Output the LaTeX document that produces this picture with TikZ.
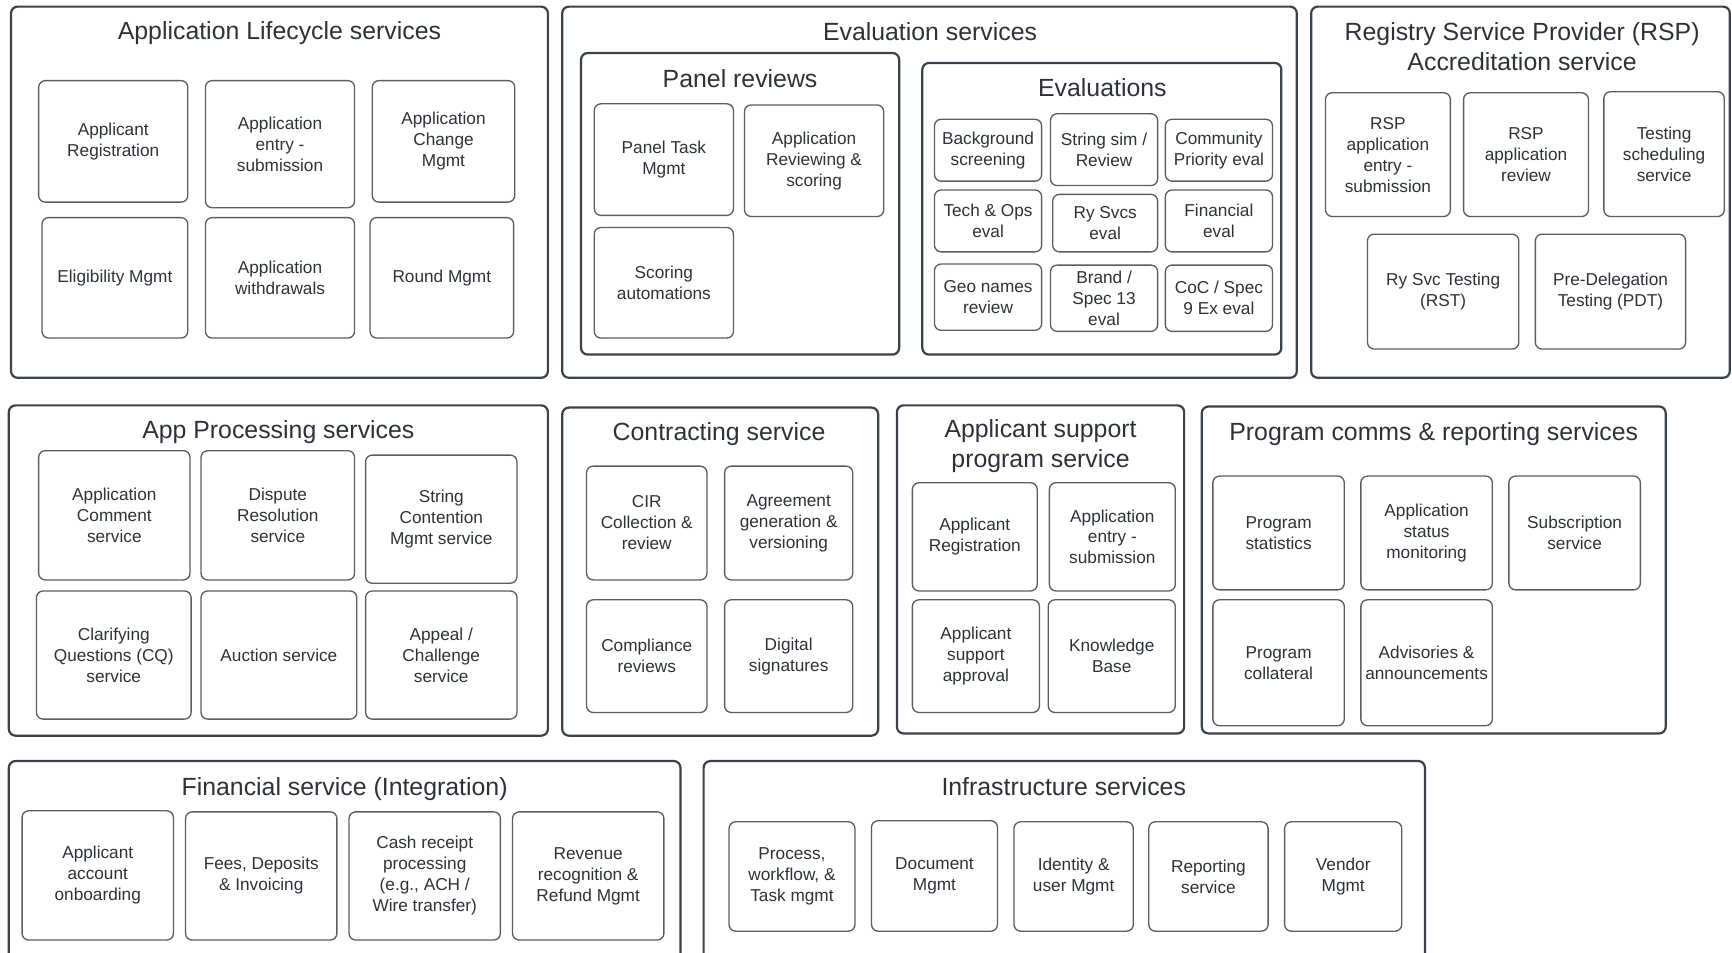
\documentclass[tikz,border=0pt]{standalone}
\usepackage{fontspec}
\setmainfont{Liberation Sans}
\usepackage{tikz}
\definecolor{lineGray}{RGB}{60,66,74}
\definecolor{textGray}{RGB}{45,50,58}

\begin{document}
\begin{tikzpicture}[x=1pt,y=-1pt,
panel/.style={draw=lineGray,line width=2pt,rounded corners=6pt},
svc/.style={draw=lineGray!85,line width=1.2pt,rounded corners=6pt},
ttl/.style={text=textGray,align=center,inner sep=0pt,font=\fontsize{22.5}{27}\selectfont},
lbl/.style={text=textGray,align=center,inner sep=0pt,font=\fontsize{15.6}{19}\selectfont}]

\useasboundingbox (0,0) rectangle (1568,862);

% Application Lifecycle services
\draw[panel] (10,6) rectangle (496,342);
\node (LIFE) at (253,30) [ttl] {Application Lifecycle services};
\draw[svc] (35,73) rectangle (170,183) node[midway,lbl] (LREG) {Applicant\\Registration};
\draw[svc] (186,73) rectangle (321,188) node[midway,lbl] (LENTRY) {Application\\entry -\\submission};
\draw[svc] (337,73) rectangle (466,183) node[midway,lbl] (LCHG) {Application\\Change\\Mgmt};
\draw[svc] (38,197) rectangle (170,306) node[midway,lbl] (LELIG) {Eligibility Mgmt};
\draw[svc] (186,197) rectangle (321,306) node[midway,lbl] (LWDR) {Application\\withdrawals};
\draw[svc] (335,197) rectangle (465,306) node[midway,lbl] (LROUND) {Round Mgmt};

% Evaluation services
\draw[panel] (509,6) rectangle (1174,342);
\node (EVAL) at (842,29) [ttl] {Evaluation services};

\draw[panel] (526,48) rectangle (814,321);
\node (PANEL) at (670,71) [ttl] {Panel reviews};
\draw[svc] (538,94) rectangle (664,195) node[midway,lbl] (PTASK) {Panel Task\\Mgmt};
\draw[svc] (674,95) rectangle (800,196) node[midway,lbl] (PREV) {Application\\Reviewing \&\\scoring};
\draw[svc] (538,206) rectangle (664,306) node[midway,lbl] (PAUTO) {Scoring\\automations};

\draw[panel] (835,57) rectangle (1160,321);
\node (EVS) at (998,79) [ttl] {Evaluations};
\draw[svc] (846,108) rectangle (943,164) node[midway,lbl] (EBG) {Background\\screening};
\draw[svc] (951,103) rectangle (1048,168) node[midway,lbl] (ESTR) {String sim /\\Review};
\draw[svc] (1055,108) rectangle (1152,164) node[midway,lbl] (ECOM) {Community\\Priority eval};
\draw[svc] (846,172) rectangle (943,228) node[midway,lbl] (ETECH) {Tech \& Ops\\eval};
\draw[svc] (953,176) rectangle (1048,228) node[midway,lbl] (ERY) {Ry Svcs\\eval};
\draw[svc] (1055,172) rectangle (1152,228) node[midway,lbl] (EFIN) {Financial\\eval};
\draw[svc] (846,239) rectangle (943,299) node[midway,lbl] (EGEO) {Geo names\\review};
\draw[svc] (951,240) rectangle (1048,300) node[midway,lbl] (EBRAND) {Brand /\\Spec 13\\eval};
\draw[svc] (1055,240) rectangle (1152,300) node[midway,lbl] (ECOC) {CoC / Spec\\9 Ex eval};

% RSP Accreditation service
\draw[panel] (1187,6) rectangle (1566,342);
\node (RSP) at (1378,42) [ttl] {Registry Service Provider (RSP)\\Accreditation service};
\draw[svc] (1200,84) rectangle (1313,196) node[midway,lbl] (RENTRY) {RSP\\application\\entry -\\submission};
\draw[svc] (1325,84) rectangle (1438,196) node[midway,lbl] (RREV) {RSP\\application\\review};
\draw[svc] (1452,83) rectangle (1561,196) node[midway,lbl] (RSCHED) {Testing\\scheduling\\service};
\draw[svc] (1238,212) rectangle (1375,316) node[midway,lbl] (RRST) {Ry Svc Testing\\(RST)};
\draw[svc] (1390,212) rectangle (1526,316) node[midway,lbl] (RPDT) {Pre-Delegation\\Testing (PDT)};

% App Processing services
\draw[panel] (8,367) rectangle (496,666);
\node (PROC) at (252,391) [ttl] {App Processing services};
\draw[svc] (35,408) rectangle (172,525) node[midway,lbl] (ACOMM) {Application\\Comment\\service};
\draw[svc] (182,408) rectangle (321,525) node[midway,lbl] (ADISP) {Dispute\\Resolution\\service};
\draw[svc] (331,412) rectangle (468,528) node[midway,lbl] (ACONT) {String\\Contention\\Mgmt service};
\draw[svc] (33,535) rectangle (173,651) node[midway,lbl] (ACQ) {Clarifying\\Questions (CQ)\\service};
\draw[svc] (182,535) rectangle (323,651) node[midway,lbl] (AAUC) {Auction service};
\draw[svc] (331,535) rectangle (468,651) node[midway,lbl] (AAPP) {Appeal /\\Challenge\\service};

% Contracting service
\draw[panel] (509,369) rectangle (795,666);
\node (CONTR) at (651,393) [ttl] {Contracting service};
\draw[svc] (531,422) rectangle (640,525) node[midway,lbl] (CCIR) {CIR\\Collection \&\\review};
\draw[svc] (656,422) rectangle (772,525) node[midway,lbl] (CAGR) {Agreement\\generation \&\\versioning};
\draw[svc] (531,543) rectangle (640,645) node[midway,lbl] (CCOMP) {Compliance\\reviews};
\draw[svc] (656,543) rectangle (772,645) node[midway,lbl] (CSIG) {Digital\\signatures};

% Applicant support program service
\draw[panel] (812,367) rectangle (1072,664);
\node (SUPP) at (942,404) [ttl] {Applicant support\\program service};
\draw[svc] (826,437) rectangle (939,535) node[midway,lbl] (SREG) {Applicant\\Registration};
\draw[svc] (950,437) rectangle (1064,535) node[midway,lbl] (SENTRY) {Application\\entry -\\submission};
\draw[svc] (826,543) rectangle (941,645) node[midway,lbl] (SAPPR) {Applicant\\support\\approval};
\draw[svc] (949,543) rectangle (1064,645) node[midway,lbl] (SKB) {Knowledge\\Base};

% Program comms & reporting services
\draw[panel] (1088,368) rectangle (1508,664);
\node (COMMS) at (1298,393) [ttl] {Program comms \& reporting services};
\draw[svc] (1098,431) rectangle (1217,534) node[midway,lbl] (MSTAT) {Program\\statistics};
\draw[svc] (1232,431) rectangle (1351,534) node[midway,lbl] (MMON) {Application\\status\\monitoring};
\draw[svc] (1366,431) rectangle (1485,534) node[midway,lbl] (MSUB) {Subscription\\service};
\draw[svc] (1098,543) rectangle (1217,657) node[midway,lbl] (MCOLL) {Program\\collateral};
\draw[svc] (1232,543) rectangle (1351,657) node[midway,lbl] (MADV) {Advisories \&\\announcements};

% Financial service (Integration)
\draw[panel] (8,689) rectangle (616,885);
\node (FIN) at (312,714) [ttl] {Financial service (Integration)};
\draw[svc] (20,734) rectangle (157,851) node[midway,lbl] (FONB) {Applicant\\account\\onboarding};
\draw[svc] (168,735) rectangle (305,851) node[midway,lbl] (FFEES) {Fees, Deposits\\\& Invoicing};
\draw[svc] (316,735) rectangle (453,851) node[midway,lbl] (FCASH) {Cash receipt\\processing\\(e.g., ACH /\\Wire transfer)};
\draw[svc] (464,735) rectangle (601,851) node[midway,lbl] (FREV) {Revenue\\recognition \&\\Refund Mgmt};

% Infrastructure services
\draw[panel] (637,689) rectangle (1290,885);
\node (INFRA) at (963,712) [ttl] {Infrastructure services};
\draw[svc] (660,744) rectangle (774,843) node[midway,lbl] (IPROC) {Process,\\workflow, \&\\Task mgmt};
\draw[svc] (789,743) rectangle (903,843) node[midway,lbl] (IDOC) {Document\\Mgmt};
\draw[svc] (918,744) rectangle (1026,843) node[midway,lbl] (IID) {Identity \&\\user Mgmt};
\draw[svc] (1040,744) rectangle (1148,843) node[midway,lbl] (IREP) {Reporting\\service};
\draw[svc] (1163,744) rectangle (1269,843) node[midway,lbl] (IVEN) {Vendor\\Mgmt};

\end{tikzpicture}
\end{document}
